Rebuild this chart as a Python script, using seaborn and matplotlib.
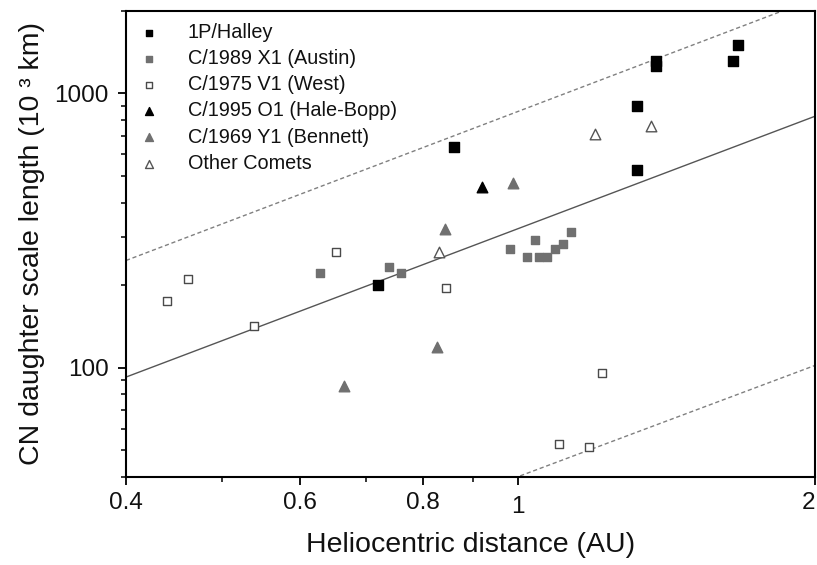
import matplotlib
matplotlib.use("Agg")
import matplotlib.pyplot as plt
import seaborn as sns
import pandas as pd
from matplotlib.ticker import FixedLocator, FixedFormatter, NullFormatter, LogLocator

# ---------------- data ----------------
halley_x = [0.72, 0.86, 1.32, 1.32, 1.38, 1.38, 1.65, 1.67]
halley_y = [200, 640, 900, 525, 1310, 1255, 1310, 1505]

austin_x = [0.63, 0.74, 0.76, 0.98, 1.02, 1.04, 1.05, 1.07, 1.09, 1.11, 1.13]
austin_y = [222, 232, 222, 272, 253, 293, 253, 253, 272, 283, 313]

west_x = [0.44, 0.462, 0.54, 0.653, 0.844, 1.216, 1.10, 1.18]
west_y = [175, 210, 142, 264, 196, 96, 52.6, 51.4]

haleb_x = [0.919]
haleb_y = [455]

bennett_x = [0.988, 0.843, 0.827, 0.666]
bennett_y = [472, 321, 119, 86]

other_x = [0.831, 1.195, 1.365]
other_y = [264, 711, 762]

fit_x = [0.4, 2.0]
fit_y = [92.5, 825]
upper_x = [0.4, 2.0]
upper_y = [246, 2215]
lower_x = [0.4, 2.0]
lower_y = [11.7, 102]

xticks = [0.4, 0.6, 0.8, 1, 2]
xticklabels = ["0.4", "0.6", "0.8", "1", "2"]
xminor = [0.5, 0.7, 0.9]
yticks = [100, 1000]
yticklabels = ["100", "1000"]

series = [
    ("1P/Halley", halley_x, halley_y, "s", "black", "black", 42),
    ("C/1989 X1 (Austin)", austin_x, austin_y, "s", "#707070", "#707070", 36),
    ("C/1975 V1 (West)", west_x, west_y, "s", "white", "#4a4a4a", 36),
    ("C/1995 O1 (Hale-Bopp)", haleb_x, haleb_y, "^", "black", "black", 58),
    ("C/1969 Y1 (Bennett)", bennett_x, bennett_y, "^", "#707070", "#707070", 58),
    ("Other Comets", other_x, other_y, "^", "white", "#555555", 58),
]

# ---------------- figure ----------------
sns.set_theme(style="ticks")
plt.rcParams["font.family"] = ["Liberation Sans", "DejaVu Sans"]

fig = plt.figure(figsize=(8.17, 5.65), dpi=100)
ax = fig.add_axes([126 / 817, 1 - 477 / 565, 689 / 817, 466.3 / 565])
ax.set_xscale("log")
ax.set_yscale("log")

sns.lineplot(x=fit_x, y=fit_y, ax=ax, color="#555555", lw=1.0, sort=False,
             estimator=None, legend=False)
sns.lineplot(x=upper_x, y=upper_y, ax=ax, color="#808080", lw=1.0, sort=False,
             estimator=None, legend=False, linestyle=(0, (3, 2)))
sns.lineplot(x=lower_x, y=lower_y, ax=ax, color="#808080", lw=1.0, sort=False,
             estimator=None, legend=False, linestyle=(0, (3, 2)))

for name, xs, ys, mk, fc, ec, sz in series:
    df = pd.DataFrame({"r": xs, "L": ys})
    sns.scatterplot(data=df, x="r", y="L", ax=ax, marker=mk, s=sz,
                    color=fc, edgecolor=ec, linewidth=1.0, label=name, zorder=3)

ax.set_xlim(0.4, 2.0)
ax.set_ylim(40, 2000)

ax.xaxis.set_major_locator(FixedLocator(xticks))
ax.xaxis.set_major_formatter(FixedFormatter(xticklabels))
ax.xaxis.set_minor_locator(FixedLocator(xminor))
ax.xaxis.set_minor_formatter(NullFormatter())
ax.yaxis.set_major_locator(FixedLocator(yticks))
ax.yaxis.set_major_formatter(FixedFormatter(yticklabels))
ax.yaxis.set_minor_locator(LogLocator(base=10, subs=[2, 3, 4, 5, 6, 7, 8, 9]))
ax.yaxis.set_minor_formatter(NullFormatter())

ax.tick_params(axis="both", which="major", direction="out", length=5.5, width=1.3,
               labelsize=17.5, color="black", labelcolor="#111111")
ax.tick_params(axis="both", which="minor", direction="out", length=3.5, width=1.1,
               color="black")
ax.tick_params(axis="x", which="major", pad=5)
ax.tick_params(axis="y", which="major", pad=7)
for sp in ax.spines.values():
    sp.set_linewidth(1.5)
    sp.set_color("black")
ax.tick_params(top=False, right=False)

ax.xaxis.get_major_ticks()[3].set_pad(8)
fig.canvas.draw()
xlabs = ax.get_xticklabels()
xlabs[-1].set_horizontalalignment("right")

ax.set_xlabel("Heliocentric distance (AU)", fontsize=20.5, color="#111111")
ax.set_ylabel("CN daughter scale length (10 \u00b3 km)", fontsize=20.5, color="#111111")
ax.xaxis.set_label_coords(0.5, -0.118)
ax.yaxis.set_label_coords(-0.118, 0.5)

leg = ax.legend(loc="upper left", bbox_to_anchor=(139 / 817, 1 - 23 / 565),
                bbox_transform=fig.transFigure, frameon=False, fontsize=14.3,
                borderpad=0, borderaxespad=0, handlelength=1.0,
                handletextpad=1.45, labelspacing=0.36, markerscale=0.75)
for t in leg.get_texts():
    t.set_color("#111111")

fig.savefig("out.png", dpi=100)
